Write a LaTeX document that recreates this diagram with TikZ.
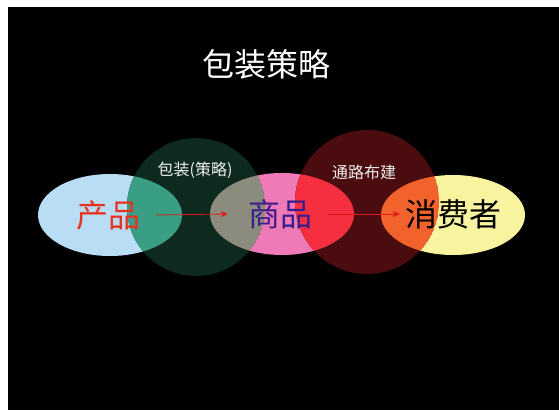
\documentclass[tikz,border=0pt]{standalone}
\usepackage{fontspec}
\usetikzlibrary{arrows.meta}
\newfontfamily\cjk{Noto Sans CJK SC}
\definecolor{cblue}{HTML}{B8DDF5}
\definecolor{cteal}{HTML}{3A9E84}
\definecolor{cgreen}{HTML}{0E2A1F}
\definecolor{cgray}{HTML}{8C8C7E}
\definecolor{cpink}{HTML}{F07AB8}
\definecolor{cred}{HTML}{F52F40}
\definecolor{cmaroon}{HTML}{4A0C0E}
\definecolor{corange}{HTML}{F2622C}
\definecolor{cyellow}{HTML}{F8F39E}
\definecolor{ctxtred}{HTML}{E8321E}
\definecolor{ctxtpurple}{HTML}{3A1E8C}
\definecolor{carrow}{HTML}{E01818}
\begin{document}
\begin{tikzpicture}[x=1pt,y=-1pt,
  big/.style={font=\cjk\fontsize{32}{32}\selectfont, inner sep=0pt},
  small/.style={font=\cjk\fontsize{16}{16}\selectfont, inner sep=0pt, text=white!88!gray},
  arr/.style={draw=carrow, line width=0.8pt, -{Stealth[length=7pt,width=6pt]}}]
\useasboundingbox (0,0) rectangle (559,410);
\fill[white] (0,0) rectangle (559,410);
\fill[black] (8,7) rectangle (559,410);
% base shapes
\fill[cblue] (110,215) ellipse [x radius=72, y radius=41];
\fill[cpink] (282,214) ellipse [x radius=72, y radius=41];
\fill[cyellow] (453,215) ellipse [x radius=72, y radius=40];
% green circle region
\begin{scope}
  \clip (196,207) circle [radius=69];
  \fill[cgreen] (196,207) circle [radius=69];
  \fill[cteal] (110,215) ellipse [x radius=72, y radius=41];
  \fill[cgray] (282,214) ellipse [x radius=72, y radius=41];
\end{scope}
% red circle region
\begin{scope}
  \clip (367,202) circle [radius=72];
  \fill[cmaroon] (367,202) circle [radius=72];
  \fill[cred] (282,214) ellipse [x radius=72, y radius=41];
  \fill[corange] (453,215) ellipse [x radius=72, y radius=40];
\end{scope}
% texts
\node[font=\cjk\fontsize{32}{32}\selectfont, text=white, inner sep=0pt] (title) at (266,64) {包装策略};
\node[small] (lab1) at (195,170) {包装(策略)};
\node[small] (lab2) at (364,172) {通路布建};
\node[big, text=ctxtred] (cp) at (108,215) {产品};
\node[big, text=ctxtpurple] (sp) at (280,214) {商品};
\node[big, text=black] (xf) at (453,214) {消费者};
% arrows
\draw[arr] ([xshift=16pt]cp.east) -- ([xshift=-20pt]sp.west);
\draw[arr] ([xshift=16pt]sp.east) -- ([xshift=-5pt]xf.west);
\end{tikzpicture}
\end{document}
